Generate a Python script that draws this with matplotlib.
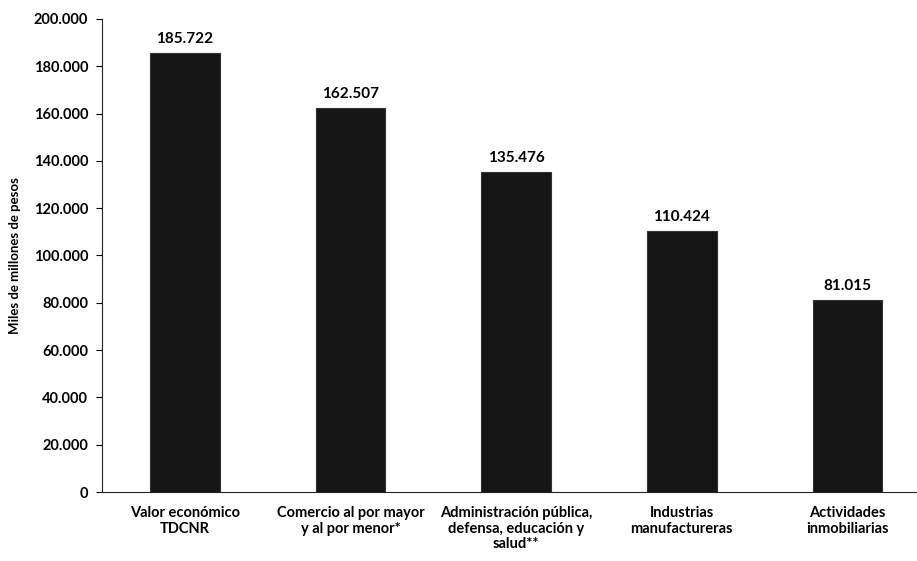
import matplotlib.pyplot as plt
from matplotlib.ticker import FuncFormatter

# Data
categories = ['Valor económico\nTDCNR', 'Comercio al por mayor\ny al por menor*',
              'Administración pública,\ndefensa, educación y\nsalud**',
              'Industrias\nmanufactureras', 'Actividades\ninmobiliarias']
values = [185722, 162507, 135476, 110424, 81015]
yticks = list(range(0, 200001, 20000))

plt.rcParams['font.family'] = ['Lato', 'DejaVu Sans']

fig = plt.figure(figsize=(9.17, 5.61), dpi=100)
ax = fig.add_axes([102 / 917, 1 - 492 / 561, (917 - 102) / 917, (492 - 19) / 561])

x = range(len(values))
ax.bar(x, values, width=0.42, color='#151515', edgecolor='#333333', linewidth=0.8)

def fmt(v):
    return f'{int(v):,}'.replace(',', '.')

for xi, v in zip(x, values):
    ax.text(xi, v + 3000, fmt(v), ha='center', va='bottom', fontsize=11, fontweight='bold')

ax.set_ylim(0, 200000)
ax.set_xlim(-0.5, 4.42)
ax.set_yticks(yticks)
ax.yaxis.set_major_formatter(FuncFormatter(lambda v, p: fmt(v)))
ax.set_xticks(list(x))
ax.set_xticklabels(categories, fontsize=10.5, fontweight='bold', linespacing=1.15)
ax.tick_params(axis='x', length=0, pad=10)
ax.tick_params(axis='y', length=4, labelsize=10.5, pad=6)
for lbl in ax.get_yticklabels():
    lbl.set_fontweight('bold')
ax.set_ylabel('Miles de millones de pesos', fontsize=9.5, fontweight='bold', labelpad=9)
ax.spines['top'].set_visible(False)
ax.spines['right'].set_visible(False)
ax.spines['left'].set_color('#222222')
ax.spines['bottom'].set_color('#222222')

fig.savefig('out.png', dpi=100)
